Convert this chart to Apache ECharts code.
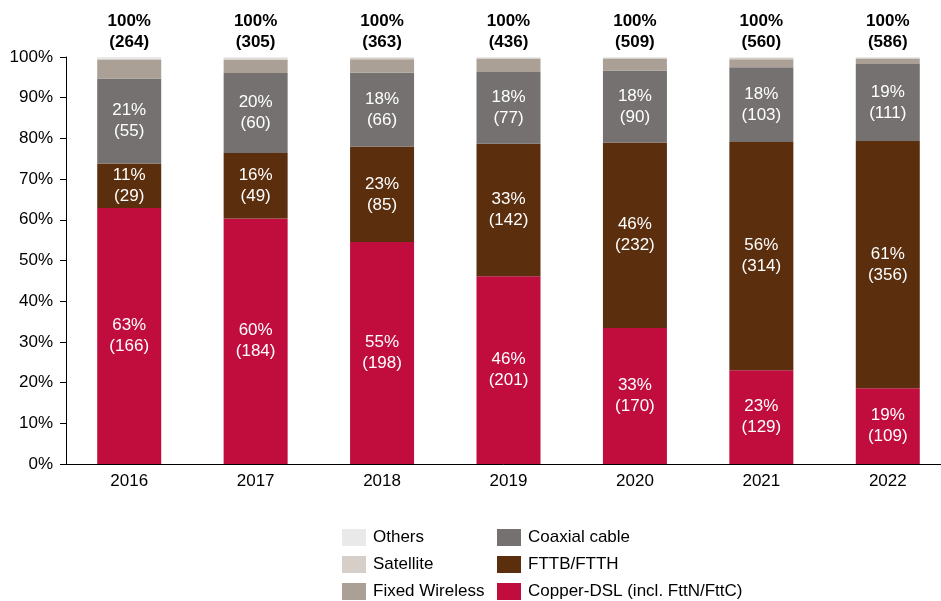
<!DOCTYPE html>
<html>
<head>
<meta charset="utf-8">
<style>
  html, body { margin: 0; padding: 0; background: #fff; }
  #chart { width: 941px; height: 601px; }
</style>
<script src="https://cdn.jsdelivr.net/npm/echarts@6/dist/echarts.min.js"></script>
</head>
<body>
<div id="chart"></div>
<script>
// categories (years)
const years = ['2016', '2017', '2018', '2019', '2020', '2021', '2022'];

// connection counts per technology (bottom -> top of stack)
const copperDsl     = [166, 184, 198, 201, 170, 129, 109];
const fttbFtth      = [29, 49, 85, 142, 232, 314, 356];
const coaxialCable  = [55, 60, 66, 77, 90, 103, 111];
const fixedWireless = [12, 10, 12, 14, 15, 11, 8];
const satellite     = [1, 1, 1, 1, 1, 2, 1];
const others        = [1, 1, 1, 1, 1, 1, 1];

// totals shown above bars
const totals = [264, 305, 363, 436, 509, 560, 586];

// y-axis ticks
const yTicks = [0, 10, 20, 30, 40, 50, 60, 70, 80, 90, 100];

const chart = echarts.init(document.getElementById('chart'));
const FONT = 'Liberation Sans, Arial, sans-serif';

// share of each year's total, in percent
function share(arr) {
  return arr.map((v, i) => v / totals[i] * 100);
}

function innerLabel(counts) {
  return {
    show: true,
    position: 'inside',
    color: '#fff',
    fontFamily: FONT,
    fontSize: 17,
    lineHeight: 21,
    formatter: (p) => Math.round(p.value) + '%\n(' + counts[p.dataIndex] + ')'
  };
}

function bar(name, counts, color, label) {
  return {
    name: name,
    type: 'bar',
    stack: 'total',
    barWidth: 64,
    data: share(counts),
    itemStyle: { color: color },
    label: label || { show: false },
    emphasis: { disabled: true }
  };
}

const legendText = { fontFamily: FONT, fontSize: 17, lineHeight: 17, color: '#000', padding: [0, 0, 0, 2] };

const option = {
  animation: false,
  // plot area runs a little past the right edge of the picture
  grid: { left: 66, top: 57, width: 885, bottom: 137, outerBoundsMode: 'none' },
  legend: [
    {
      orient: 'vertical',
      left: 342,
      top: 529,
      padding: 0,
      itemWidth: 24,
      itemHeight: 17,
      itemGap: 10,
      icon: 'rect',
      selectedMode: false,
      textStyle: legendText,
      data: ['Others', 'Satellite', 'Fixed Wireless']
    },
    {
      orient: 'vertical',
      left: 497,
      top: 529,
      padding: 0,
      itemWidth: 24,
      itemHeight: 17,
      itemGap: 10,
      icon: 'rect',
      selectedMode: false,
      textStyle: legendText,
      data: ['Coaxial cable', 'FTTB/FTTH', 'Copper-DSL (incl. FttN/FttC)']
    }
  ],
  xAxis: {
    type: 'category',
    data: years,
    axisLine: { lineStyle: { color: '#000', width: 1 } },
    axisTick: { show: false },
    axisLabel: { fontFamily: FONT, fontSize: 17, color: '#000', margin: 9 }
  },
  yAxis: {
    type: 'value',
    min: yTicks[0],
    max: yTicks[yTicks.length - 1],
    interval: 10,
    axisLine: { show: true, lineStyle: { color: '#000', width: 1 } },
    axisTick: { show: true, length: 6, lineStyle: { color: '#000' } },
    splitLine: { show: false },
    axisLabel: { fontFamily: FONT, fontSize: 17, color: '#000', margin: 13, formatter: '{value}%' }
  },
  series: [
    bar('Copper-DSL (incl. FttN/FttC)', copperDsl, '#C00D3E', innerLabel(copperDsl)),
    bar('FTTB/FTTH', fttbFtth, '#5B2E0E', innerLabel(fttbFtth)),
    bar('Coaxial cable', coaxialCable, '#767171', innerLabel(coaxialCable)),
    bar('Fixed Wireless', fixedWireless, '#ABA096'),
    bar('Satellite', satellite, '#D6CEC8'),
    bar('Others', others, '#E9E9E9', {
      show: true,
      position: 'top',
      distance: 4,
      color: '#000',
      fontFamily: FONT,
      fontSize: 17,
      fontWeight: 'bold',
      lineHeight: 21,
      formatter: (p) => '100%\n(' + totals[p.dataIndex] + ')'
    })
  ]
};

chart.setOption(option);
</script>
</body>
</html>
